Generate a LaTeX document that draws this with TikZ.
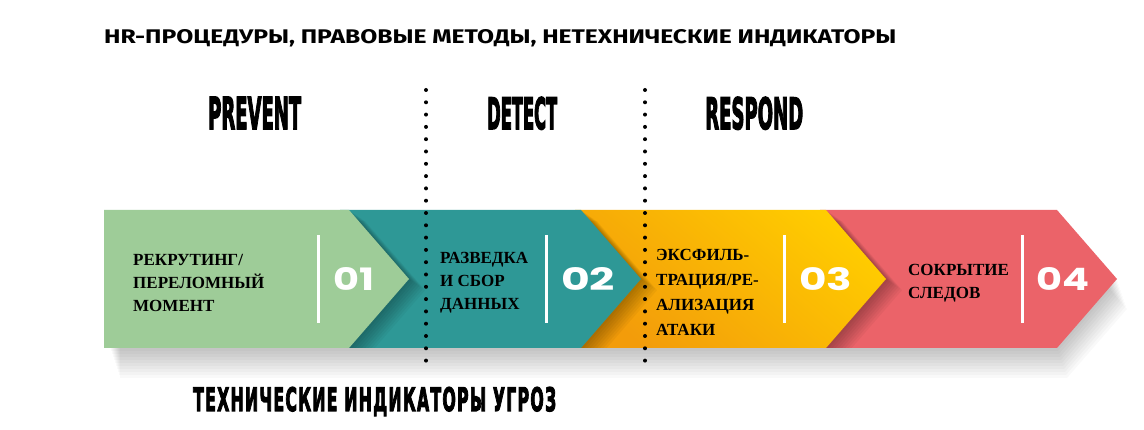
\documentclass[tikz,border=0pt]{standalone}
\usepackage{graphicx}
\usepackage{fontspec}
\setmainfont{Liberation Serif}
\newfontfamily\numfont{Poppins}
\newfontfamily\headfont{Fira Sans}
\newfontfamily\phasefont[FakeBold=4]{DejaVu Sans}
\usepackage{tikz}

\definecolor{stepgreen}{RGB}{158,204,152}
\definecolor{stepteal}{RGB}{46,152,150}
\definecolor{steporange}{RGB}{243,156,10}
\definecolor{stepyellow}{RGB}{255,204,0}
\definecolor{stepred}{RGB}{235,99,105}

% chevron from left edge #1 to top-right corner #2
\newcommand{\chev}[2]{(#1,210) -- (#2,210) -- (#2+60,279) -- (#2,348) -- (#1,348) -- cycle}
\newcommand{\fitbox}[3]{\resizebox{#1pt}{#2pt}{#3}}

\begin{document}
\begin{tikzpicture}[x=1pt, y=-1pt,
    steptxt/.style={anchor=west, align=left, inner sep=0, font=\bfseries\fontsize{17}{23}\selectfont},
    numtxt/.style={text=white, inner sep=0, font=\numfont\bfseries\fontsize{33}{33}\selectfont},
    phase/.style={anchor=base west, inner sep=0, font=\phasefont\bfseries},
    sepline/.style={white, line width=3pt},
    dots/.style={line width=4pt, line cap=round, dash pattern=on 0pt off 12.3pt}]
        \fill[white] (0,0) rectangle (1144,430);
        \useasboundingbox (0,0) rectangle (1144,430);
        % soft shadow under the band
        \foreach \s in {2,4,...,20}
            \fill[black, opacity=0.025, shift={({\s*0.5},{\s*1.5})}] \chev{110}{1057};
        \fill[stepred] \chev{820}{1057};
        \begin{scope}
            \clip \chev{820}{1057};
            \foreach \s in {2,4,...,16}
                \fill[black, opacity=0.04, shift={(\s,{\s*0.7})}] \chev{575}{826};
        \end{scope}
        \shade[top color=stepyellow, bottom color=steporange, shading angle=-40] \chev{575}{826};
        \begin{scope}
            \clip \chev{575}{826};
            \foreach \s in {2,4,...,16}
                \fill[black, opacity=0.04, shift={(\s,{\s*0.7})}] \chev{340}{581};
        \end{scope}
        \fill[stepteal] \chev{340}{581};
        \begin{scope}
            \clip \chev{340}{581};
            \foreach \s in {2,4,...,16}
                \fill[black, opacity=0.04, shift={(\s,{\s*0.7})}] \chev{104}{349};
        \end{scope}
        \fill[stepgreen] \chev{104}{349};
        % separators
        \draw[sepline] (318,235) -- (318,323);
        \draw[sepline] (546,235) -- (546,323);
        \draw[sepline] (784,235) -- (784,323);
        \draw[sepline] (1022,235) -- (1022,323);
        % step texts
        \node[steptxt] (t1) at (133,283) {РЕКРУТИНГ/\\ПЕРЕЛОМНЫЙ\\МОМЕНТ};
        \node[steptxt] (t2) at (440,283) {РАЗВЕДКА\\И СБОР\\ДАННЫХ};
        \node[steptxt, font=\bfseries\fontsize{17}{25}\selectfont] (t3) at (656,292) {ЭКСФИЛЬ-\\ТРАЦИЯ/РЕ-\\АЛИЗАЦИЯ\\АТАКИ};
        \node[steptxt] (t4) at (908,283) {СОКРЫТИЕ\\СЛЕДОВ};
        \node[numtxt] (n1) at (353.5,279.5) {\fitbox{41}{23}{01}};
        \node[numtxt] (n2) at (588,279.5) {\fitbox{54}{23}{02}};
        \node[numtxt] (n3) at (825.5,279.5) {\fitbox{53}{23}{03}};
        \node[numtxt] (n4) at (1062.5,279.5) {\fitbox{53}{23}{04}};
        % phase borders
        \coordinate (d1a) at (426,90);
        \coordinate (d1b) at (426,366);
        \coordinate (d2a) at (645,90);
        \coordinate (d2b) at (645,366);
        \draw[dots] (d1a) -- (d1b);
        \draw[dots] (d2a) -- (d2b);
        % headings
        \node[anchor=base west, inner sep=0, font=\headfont\bfseries] (hdr) at (104,44)
            {\fitbox{792}{14}{HR-ПРОЦЕДУРЫ, ПРАВОВЫЕ МЕТОДЫ, НЕТЕХНИЧЕСКИЕ ИНДИКАТОРЫ}};
        \node[phase] (prevent) at (208,129) {\fitbox{93}{32}{PREVENT}};
        \node[phase] (detect) at (487,129) {\fitbox{70}{32}{DETECT}};
        \node[phase] (respond) at (705,129) {\fitbox{98}{32}{RESPOND}};
        \node[phase] (bottom) at (193,411) {\fitbox{363}{24}{\addfontfeature{LetterSpace=8}ТЕХНИЧЕСКИЕ ИНДИКАТОРЫ УГРОЗ}};
\end{tikzpicture}
\end{document}
